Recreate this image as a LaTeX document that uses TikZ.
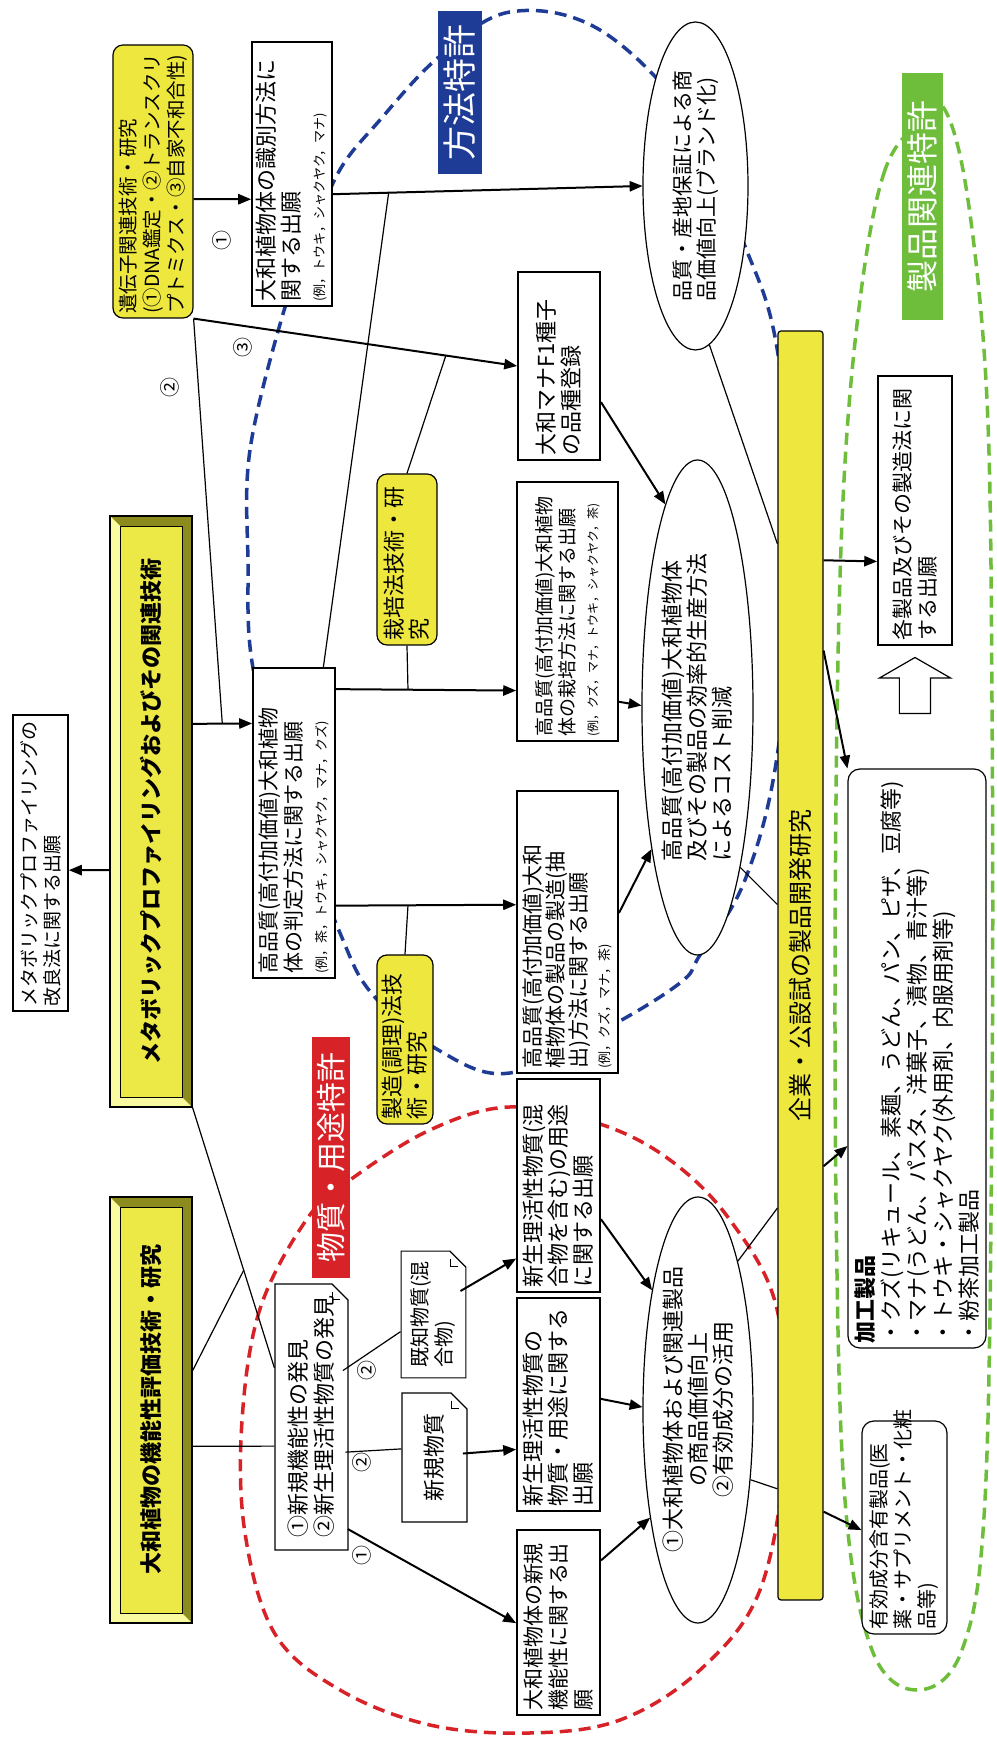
\documentclass[tikz,border=0pt]{standalone}
\usepackage{fontspec}
\setmainfont{Noto Sans CJK JP}
\usetikzlibrary{arrows}
\usetikzlibrary{shapes}
\usetikzlibrary{calc}

\definecolor{techyellow}{RGB}{238,232,62}
\definecolor{bevdark}{RGB}{140,140,30}
\definecolor{bevlight}{RGB}{250,250,160}
\definecolor{bevface}{RGB}{236,232,70}
\definecolor{methodblue}{RGB}{30,60,150}
\definecolor{substred}{RGB}{215,35,40}
\definecolor{productgreen}{RGB}{110,190,60}

\newcommand{\exfont}{\fontsize{13}{16}\selectfont}

\tikzstyle{box}=[rectangle, draw, line width=2pt, fill=white, align=left, inner sep=4pt, font=\fontsize{22}{25}\selectfont]
\tikzstyle{tech}=[rectangle, rounded corners=10pt, draw, line width=1.2pt, fill=techyellow, align=left, inner sep=4pt, font=\fontsize{22}{25}\selectfont]
\tikzstyle{oval}=[ellipse, draw, line width=1.2pt, fill=white, inner sep=0pt, font=\fontsize{22}{25}\selectfont]
\tikzstyle{memo}=[chamfered rectangle, chamfered rectangle corners=south east, chamfered rectangle sep=8pt, draw, line width=1.2pt, fill=white, align=left, inner sep=2pt, font=\fontsize{22}{26}\selectfont]
\tikzstyle{tag}=[rectangle, text=white, inner sep=1pt]
\tikzstyle{platform}=[rectangle, rounded corners=3pt, draw, line width=1.2pt, fill=techyellow, font=\fontsize{24}{26}\selectfont]
\tikzstyle{bevel}=[rectangle, draw, line width=1.2pt, fill=bevdark]
\tikzstyle{num}=[font=\fontsize{20}{20}\selectfont, inner sep=1pt]
\tikzstyle{patent}=[line width=3.5pt, dash pattern=on 12pt off 7pt]
\tikzstyle{flow}=[->, line width=2pt]
\tikzstyle{link}=[line width=1.2pt]

% 3D yellow panel: name, x1, y1, x2, y2, text
\newcommand{\bevelbox}[6]{%
  \node[bevel, minimum width=#4-#2, minimum height=#5-#3] (#1) at ({(#2+#4)/2},{(#3+#5)/2}) {};
  \fill[bevlight] (#2,#3) -- (#2+10,#3+10) -- (#2+10,#5-10) -- (#4-10,#5-10) -- (#4,#5) -- (#2,#5) -- cycle;
  \draw[fill=bevface] (#2+10,#3+10) rectangle (#4-10,#5-10);
  \draw[line width=1.2pt] (#2,#3) rectangle (#4,#5);
  \node[font=\fontsize{22}{24}\bfseries] (#1txt) at (#1) {#6};
}
% dog-ear of a memo
\newcommand{\fold}[1]{%
  \draw[line width=1pt] ($(#1.south east)+(0,8)$) -- ($(#1.south east)+(-8,8)$) -- ($(#1.south east)+(-8,0)$);
}

\begin{document}
\begin{tikzpicture}[x=1pt, y=1pt, rotate=90, transform shape, >=triangle 45]
    \fill[white] (0,0) rectangle (1740,996);
    \useasboundingbox (0,0) rectangle (1740,996);

    % patent areas
    \draw[patent, methodblue] plot[smooth cycle, tension=.6] coordinates {(1426,713) (1290,746) (1179,748) (1072,743) (940,706) (807,656) (745,623) (689,556) (667,486) (712,389) (757,316) (785,296) (860,251) (983,219) (1190,201) (1392,219) (1499,253) (1620,306) (1710,396) (1728,486) (1684,556) (1620,616) (1565,659) (1480,691)};
    \draw[patent, substred] plot[smooth cycle, tension=.6] coordinates {(521,689) (431,736) (319,754) (207,751) (106,721) (50,656) (15,566) (7,466) (20,376) (70,296) (150,236) (290,211) (431,219) (520,266) (580,326) (616,396) (633,486) (610,566) (560,646)};
    \draw[patent, productgreen] plot[smooth cycle, tension=.6] coordinates {(1620,74) (1570,111) (1440,136) (1240,153) (940,160) (540,160) (240,151) (90,124) (50,79) (90,34) (240,11) (640,4) (1040,4) (1340,9) (1540,28) (1630,51)};

    % research
    \bevelbox{metabo}{633}{804}{1224}{886}{メタボリックプロファイリングおよびその関連技術}
    \bevelbox{func}{117}{804}{543}{886}{大和植物の機能性評価技術・研究}
    \node[tech, text width=265pt, minimum height=80pt, font=\fontsize{19.5}{24}\selectfont] (gene) at (1558.5,843) {遺伝子関連技術・研究\\(①DNA鑑定・②トランスクリ\\プトミクス・③自家不和合性)};
    \node[tech, text width=163pt, minimum height=60pt] (saibaiL) at (1180.5,589) {栽培法技術・研\\究};
    \node[tech, text width=161pt, minimum height=56pt] (seizoL) at (700.5,591) {製造(調理)法技\\術・研究};

    % applications
    \node[box, text width=288pt, minimum height=55pt, font=\fontsize{19}{23}\selectfont] (improve) at (877,955.5) {メタボリックプロファイリングの\\改良法に関する出願};
    \node[box, text width=256pt, minimum height=80pt] (ident) at (1566,704) {大和植物体の識別方法に\\関する出願\\{\exfont (例，トウキ，シャクヤク，マナ)}};
    \node[box, text width=302pt, minimum height=82pt, font=\fontsize{21}{25}\selectfont] (judge) at (917,702) {高品質(高付加価値)大和植物\\体の判定方法に関する出願\\{\exfont (例，茶，トウキ，シャクヤク，マナ，クズ)}};
    \node[box, text width=180pt, minimum height=82pt] (F1) at (1374,437) {大和マナF1種子\\の品種登録};
    \node[box, text width=251pt, minimum height=101pt, font=\fontsize{19}{23}\selectfont] (saibai) at (1128.5,428.5) {高品質(高付加価値)大和植物\\体の栽培方法に関する出願\\{\fontsize{12}{15}\selectfont (例，クズ，マナ，トウキ，シャクヤク，茶)}};
    \node[box, text width=274pt, minimum height=101pt, font=\fontsize{21}{23}\selectfont] (seizo) at (808,428.5) {高品質(高付加価値)大和\\植物体の製品の製造(抽\\出)方法に関する出願\\{\exfont (例，クズ，マナ，茶)}};
    \node[box, text width=205pt, minimum height=83pt] (newuse) at (554.5,437.5) {新生理活性物質(混\\合物を含む)の用途\\に関する出願};
    \node[box, text width=205pt, minimum height=83pt] (newmat) at (335.5,437.5) {新生理活性物質の\\物質・用途に関する\\出願};
    \node[box, text width=177pt, minimum height=83pt, font=\fontsize{21}{25}\selectfont] (newfunc) at (117.5,437.5) {大和植物体の新規\\機能性に関する出\\願};

    % discoveries
    \node[memo, minimum width=266pt, minimum height=73pt] (discover) at (323,684.5) {①新規機能性の発見\\②新生理活性物質の発見};
    \node[memo, minimum width=123pt, minimum height=63pt, font=\fontsize{20}{24}\selectfont] (known) at (425.5,562.5) {既知物質(混\\合物)};
    \node[memo, minimum width=129pt, minimum height=65pt] (newsub) at (282.5,561.5) {新規物質};
    \fold{discover}
    \fold{known}
    \fold{newsub}

    % effects
    \node[oval, minimum width=328pt, minimum height=105pt, align=left, font=\fontsize{21}{24}\selectfont] (brand) at (1554,300.5) {品質・産地保証による商\\品価値向上(ブランド化)};
    \node[oval, minimum width=495pt, minimum height=111pt, align=left] (cost) at (1032.5,298.5) {高品質(高付加価値)大和植物体\\及びその製品の効率的生産方法\\によるコスト削減};
    \node[oval, minimum width=426pt, minimum height=110pt, align=center] (value) at (330,298) {①大和植物体および関連製品\\の商品価値向上\\②有効成分の活用};
    \node[platform, minimum width=1269pt, minimum height=45pt] (rail) at (774.5,195.5) {企業・公設試の製品開発研究};

    % products
    \node[box, text width=261pt, minimum height=74pt, font=\fontsize{21}{25}\selectfont] (kaku) at (1229.5,81) {各製品及びその製造法に関\\する出願};
    \node[single arrow, draw, line width=1.2pt, fill=white, minimum height=56pt, inner xsep=0pt, inner ysep=15pt, single arrow head extend=20pt, single arrow tip angle=120] (up) at (1050,81) {};
    \node[box, rounded corners=12pt, line width=1.2pt, text width=571pt, minimum height=138pt, font=\fontsize{22}{26}\selectfont] (kakou) at (681.5,79) {{\bfseries 加工製品}\\・クズ(リキュール、素麺、うどん、パン、ピザ、豆腐等)\\・マナ(うどん、パスタ、洋菓子、漬物、青汁等)\\・トウキ・シャクヤク(外用剤、内服用剤等)\\・粉茶加工製品};
    \node[box, rounded corners=12pt, line width=1.2pt, text width=205pt, minimum height=85pt, font=\fontsize{20}{24}\selectfont] (yuko) at (212.5,91.5) {有効成分含有製品(医\\薬・サプリメント・化粧\\品等)};

    % patent labels
    \node[tag, fill=methodblue, minimum width=163pt, minimum height=44pt, font=\fontsize{34}{36}\selectfont] (method) at (1647.5,536) {方法特許};
    \node[tag, fill=substred, minimum width=241pt, minimum height=38pt, font=\fontsize{30}{32}\selectfont] (substance) at (582.5,665) {物質・用途特許};
    \node[tag, fill=productgreen, minimum width=247pt, minimum height=41pt, font=\fontsize{32}{34}\selectfont] (product) at (1543.5,73.5) {製品関連特許};

    % numbers
    \node[num] (n1) at (1499,774) {①};
    \node[num] (n2) at (1352,826) {②};
    \node[num] (n3) at (1392,753) {③};
    \node[num] (d2a) at (369,629) {②};
    \node[num] (d2b) at (277,634) {②};
    \node[num] (d1) at (184,634) {①};

    % connectors
    \draw[flow] ($(gene.south west)!.436!(gene.south east)$) -- ($(ident.north west)!.405!(ident.north east)$);
    \draw[flow] ($(metabo.north west)!.401!(metabo.north east)$) -- ($(improve.south west)!.476!(improve.south east)$);
    \draw[flow] ($(metabo.south west)!.648!(metabo.south east)$) -- coordinate (mj) ($(judge.north west)!.819!(judge.north east)$);
    \draw[link] (gene.south west) -- (mj);
    \draw[flow] (gene.south west) -- coordinate[pos=.78] (g3) (F1.north);
    \draw[link] (saibaiL.east) -- (g3);
    \draw[flow] ($(judge.south west)!.929!(judge.south east)$) -- coordinate[pos=.4] (js) ($(saibai.north west)!.197!(saibai.north east)$);
    \draw[link] (saibaiL.west) -- (js);
    \draw[flow] ($(judge.south west)!.235!(judge.south east)$) -- coordinate[pos=.4] (jz) ($(seizo.north west)!.596!(seizo.north east)$);
    \draw[link] (seizoL.east) -- (jz);
    \draw[flow] ($(ident.south west)!.424!(ident.south east)$) -- coordinate[pos=.18] (ib) (brand.north);
    \draw[link] ($(judge.south east)!.15!(judge.north east)$) -- (ib);
    \draw[flow] ($(saibai.south west)!.154!(saibai.south east)$) -- (cost.88);
    \draw[flow] ($(F1.south west)!.31!(F1.south east)$) -- (cost.9);
    \draw[flow] ($(seizo.south west)!.567!(seizo.south east)$) -- (cost.162);
    \draw[link] (cost.195) -- ($(rail.north west)!.548!(rail.north east)$);
    \draw[link] (brand.185) -- ($(rail.north west)!.832!(rail.north east)$);
    \draw[link] (value.345) -- ($(rail.north west)!.309!(rail.north east)$);
    \draw[link] (value.217) -- ($(rail.north west)!.088!(rail.north east)$);
    \draw[flow] ($(newuse.south west)!.343!(newuse.south east)$) -- (value.21);
    \draw[flow] ($(newmat.south west)!.526!(newmat.south east)$) -- (value.87);
    \draw[flow] ($(newfunc.south west)!.832!(newfunc.south east)$) -- (value.156);
    \draw[flow] ($(rail.south west)!.819!(rail.south east)$) -- ($(kaku.north west)!.312!(kaku.north east)$);
    \draw[flow] ($(rail.south west)!.748!(rail.south east)$) -- (kakou.north east);
    \draw[flow] ($(rail.south west)!.342!(rail.south east)$) -- ($(kakou.north west)!.349!(kakou.north east)$);
    \draw[flow] ($(rail.south west)!.07!(rail.south east)$) -- ($(yuko.north west)!.488!(yuko.north east)$);
    \draw[link] (metabo.south west) -- coordinate[pos=.625] (mf) ($(discover.north west)!.684!(discover.north east)$);
    \draw[link] ($(func.south west)!.592!(func.south east)$) -- (mf);
    \draw[link] ($(func.south west)!.415!(func.south east)$) -- ($(discover.north west)!.391!(discover.north east)$);
    \draw[link] ($(discover.south west)!.695!(discover.south east)$) -- ($(known.north west)!.366!(known.north east)$);
    \draw[flow] ($(known.south west)!.73!(known.south east)$) -- ($(newuse.north west)!.16!(newuse.north east)$);
    \draw[link] ($(discover.south west)!.38!(discover.south east)$) -- ($(newsub.north west)!.566!(newsub.north east)$);
    \draw[flow] ($(newsub.south west)!.566!(newsub.south east)$) -- ($(newmat.north west)!.291!(newmat.north east)$);
    \draw[flow] ($(discover.south west)!.083!(discover.south east)$) -- ($(newfunc.north west)!.497!(newfunc.north east)$);
\end{tikzpicture}
\end{document}
